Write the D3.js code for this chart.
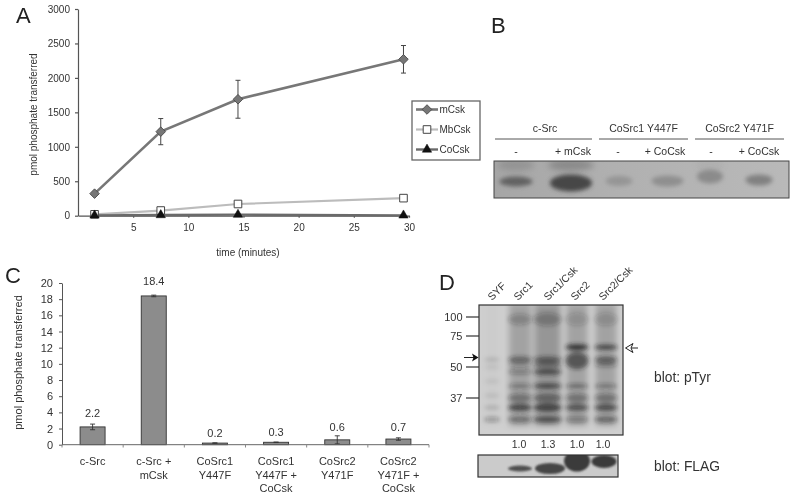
<!DOCTYPE html>
<html><head><meta charset="utf-8">
<script src="https://cdnjs.cloudflare.com/ajax/libs/d3/7.8.5/d3.min.js"></script>
<style>
html,body{margin:0;padding:0;background:#fff}
svg{display:block;filter:blur(0.35px)}
text{font-family:"Liberation Sans",Arial,sans-serif;fill:#333}
</style></head><body>
<svg id="c" width="795" height="497"></svg>
<script>
// Panel A
const timeMinutes=[1.5,7.5,14.5,29.5];
const mCsk=[320,1220,1690,2270];
const mCskErr=[0,190,275,200];
const mbCsk=[20,75,170,255];
const coCsk=[5,10,15,5];
const timeTicks=[5,10,15,20,25,30];
const phosphateTicks=[0,500,1000,1500,2000,2500,3000];
const seriesNames=["mCsk","MbCsk","CoCsk"];
// Panel C
const bars=["c-Src","c-Src + mCsk","CoSrc1 Y447F","CoSrc1 Y447F + CoCsk","CoSrc2 Y471F","CoSrc2 Y471F + CoCsk"];
const barLines=[["c-Src"],["c-Src +","mCsk"],["CoSrc1","Y447F"],["CoSrc1","Y447F +","CoCsk"],["CoSrc2","Y471F"],["CoSrc2","Y471F +","CoCsk"]];
const barValues=[2.2,18.4,0.2,0.3,0.6,0.7];
const barErr=[0.35,0.1,0.03,0.03,0.5,0.15];
const barTicks=[0,2,4,6,8,10,12,14,16,18,20];
// Panel B
const gelLanes=["-","+ mCsk","-","+ CoCsk","-","+ CoCsk"];
const gelGroups=["c-Src","CoSrc1 Y447F","CoSrc2 Y471F"];
const gelIntensity=[0.72,1,0.2,0.26,0.3,0.4];
const gelBandWidth=[33,42,27,32,26,27];
const gelBandHeight=[8,15,8,9,12,9];
const gelOffset=[0.5,2,0,0,-4.5,-1];
const gelTopSmudge=[0.12,0.2,0,0,0.03,0];
// Panel D
const dLanes=["SYF","Src1","Src1/Csk","Src2","Src2/Csk"];
const mwMarkers=[100,75,50,37];
const ratio=["","1.0","1.3","1.0","1.0"];
const flagLevel=[0,0.85,0.92,1,1];
const flagWidth=[0,24,30,26,25];
const flagHeight=[0,6,11,21,13];
const laneSmear=[0.02,0.22,0.28,0.22,0.22];
const syfBands=[[56,.14,3],[50,.08,3],[44,.08,3],[38,.1,3],[33,.16,3],[28,.32,4]];
const src1Bands=[[97,.24,10],[56,.5,5],[52,.24,3],[48,.32,4],[42,.42,3],[37,.36,8],[33,.7,6],[28,.42,5]];
const src1cBands=[[97,.28,12],[56,.55,5],[52,.44,5],[48,.66,5],[42,.74,4],[37,.46,8],[33,.72,7],[28,.65,5]];
const src2Bands=[[97,.16,12],[66,.85,5],[55,.58,16],[42,.5,3],[37,.36,8],[33,.62,6],[28,.32,5]];
const src2cBands=[[97,.18,12],[66,.76,4],[56,.55,5],[52,.34,4],[42,.42,3],[37,.36,8],[33,.66,6],[28,.48,5]];
const allBands=[syfBands,src1Bands,src1cBands,src2Bands,src2cBands];

const svg=d3.select("#c");
const defs=svg.append("defs");
[[1.9,"b1"],[2.2,"b2"],[3,"b3"],[1.1,"b0"]].forEach(([s,id])=>defs.append("filter").attr("id",id)
  .attr("x","-40%").attr("y","-100%").attr("width","180%").attr("height","300%")
  .append("feGaussianBlur").attr("stdDeviation",s));
const grayAxis=(g,w=1)=>{g.selectAll("path,line").attr("stroke","#555").attr("stroke-width",w);g.selectAll("text").attr("fill","#444")};
const label=(t,x,y)=>svg.append("text").text(t).attr("x",x).attr("y",y).attr("font-size",22).style("fill","#222");
label("A",16,23);label("B",491,33);label("C",5,283);label("D",439,290);

/* ---- Panel A ---- */
const xA=d3.scaleLinear().domain([0,30]).range([78,409]);
const yA=d3.scaleLinear().domain([0,3000]).range([215.7,9]);
const gA=svg.append("g");
gA.append("g").attr("transform","translate(78,0)")
  .call(d3.axisLeft(yA).tickValues(phosphateTicks).tickFormat(d3.format("d")).tickSize(3).tickSizeOuter(0).tickPadding(5))
  .call(g=>g.selectAll("text").attr("font-size",10)).call(grayAxis,1.2);
gA.append("g").attr("transform","translate(0,215.7)")
  .call(d3.axisBottom(xA).tickValues(timeTicks).tickSize(2).tickSizeOuter(0).tickPadding(6))
  .call(g=>g.selectAll("text").attr("font-size",10)).call(grayAxis,1.2);
gA.append("text").text("pmol phosphate transferred").attr("font-size",10)
  .attr("transform","translate(37,114.5) rotate(-90)").attr("text-anchor","middle");
gA.append("text").text("time (minutes)").attr("font-size",10).attr("x",248).attr("y",256).attr("text-anchor","middle");
const lineA=d3.line().x((d,i)=>xA(timeMinutes[i])).y(d=>yA(d));
const styleA={mCsk:{c:"#777",w:2.6},MbCsk:{c:"#bcbcbc",w:2.2},CoCsk:{c:"#6a6a6a",w:2.4}};
const sym=(name,g,x,y)=>{
  if(name==="mCsk") g.append("path").attr("d",d3.symbol(d3.symbolSquare,46)).attr("transform",`translate(${x},${y}) rotate(45)`).attr("fill","#777").attr("stroke","#444").attr("stroke-width",.8);
  if(name==="MbCsk") g.append("path").attr("d",d3.symbol(d3.symbolSquare,58)).attr("transform",`translate(${x},${y})`).attr("fill","#fff").attr("stroke","#444").attr("stroke-width",1);
  if(name==="CoCsk") g.append("path").attr("d",d3.symbol(d3.symbolTriangle,38)).attr("transform",`translate(${x},${y})`).attr("fill","#111").attr("stroke","#111").attr("stroke-width",.5);
};
[["MbCsk",mbCsk],["mCsk",mCsk],["CoCsk",coCsk]].forEach(([n,v])=>{
  gA.append("path").attr("d",lineA(v)).attr("fill","none").attr("stroke",styleA[n].c).attr("stroke-width",styleA[n].w);
});
mCsk.forEach((v,i)=>{ if(!mCskErr[i]) return;
  const x=xA(timeMinutes[i]);
  const p=d3.path();p.moveTo(x,yA(v-mCskErr[i]));p.lineTo(x,yA(v+mCskErr[i]));
  p.moveTo(x-2.5,yA(v-mCskErr[i]));p.lineTo(x+2.5,yA(v-mCskErr[i]));
  p.moveTo(x-2.5,yA(v+mCskErr[i]));p.lineTo(x+2.5,yA(v+mCskErr[i]));
  gA.append("path").attr("d",p).attr("stroke","#444").attr("fill","none");
});
[["MbCsk",mbCsk],["mCsk",mCsk],["CoCsk",coCsk]].forEach(([n,v])=>v.forEach((d,i)=>sym(n,gA,xA(timeMinutes[i]),yA(d))));
// legend
const legend=svg.append("g");
legend.append("rect").attr("x",412).attr("y",101).attr("width",68).attr("height",59).attr("fill","#fff").attr("stroke","#666").attr("stroke-width",1.3);
const legY=d3.scalePoint().domain(seriesNames).range([109.5,149.5]);
seriesNames.forEach(n=>{
  legend.append("line").attr("x1",416).attr("x2",438).attr("y1",legY(n)).attr("y2",legY(n)).attr("stroke",styleA[n].c).attr("stroke-width",styleA[n].w);
  sym(n,legend,427,legY(n));
  legend.append("text").text(n).attr("x",439.5).attr("y",legY(n)+3.5).attr("font-size",10);
});

/* ---- Panel B ---- */
const gB=svg.append("g");
const gradB=defs.append("linearGradient").attr("id","gb").attr("x1",0).attr("x2",1).attr("y1",0).attr("y2",0);
gradB.append("stop").attr("offset",0).attr("stop-color","#a6a6a6");
gradB.append("stop").attr("offset",.4).attr("stop-color","#b0b0b0");
gradB.append("stop").attr("offset",1).attr("stop-color","#b9b9b9");
const clipB=defs.append("clipPath").attr("id","cb");clipB.append("rect").attr("x",494).attr("y",161).attr("width",295).attr("height",37);
gB.append("rect").attr("x",494).attr("y",161).attr("width",295).attr("height",37).attr("fill","url(#gb)");
const xB=d3.scaleOrdinal().domain(d3.range(6)).range([516,571,619,667.5,710,759]);
const xBText=d3.scaleOrdinal().domain(d3.range(6)).range([516,573,618,665,711,759]);
const bandColor=d3.scaleLinear().domain([0,1]).range(["#a8a8a8","#474747"]);
const gelClip=gB.append("g").attr("clip-path","url(#cb)");
const smudgeG=gelClip.append("g").attr("filter","url(#b3)");
const gelG=gelClip.append("g").attr("filter","url(#b1)");
gelLanes.forEach((t,i)=>{
  const cx=xB(i);
  if(gelTopSmudge[i]) smudgeG.append("ellipse").attr("cx",cx).attr("cy",165).attr("rx",gelBandWidth[i]/2+2).attr("ry",6).attr("fill","#000").attr("opacity",gelTopSmudge[i]);
  gelG.append("ellipse").attr("cx",cx).attr("cy",181+gelOffset[i]).attr("rx",gelBandWidth[i]/2).attr("ry",gelBandHeight[i]/2+1)
    .attr("fill",bandColor(gelIntensity[i]));
  gB.append("text").text(t).attr("x",xBText(i)).attr("y",155).attr("text-anchor","middle").attr("font-size",10.5);
});
gB.append("rect").attr("x",494).attr("y",161).attr("width",295).attr("height",37).attr("fill","none").attr("stroke","#444").attr("stroke-width",1);
const xGroup=d3.scaleOrdinal().domain(gelGroups).range([[495,592],[599,688],[695,784]]);
gelGroups.forEach((g,i)=>{
  const [a,b]=xGroup(g);
  gB.append("line").attr("x1",a).attr("x2",b).attr("y1",139).attr("y2",139).attr("stroke","#555").attr("stroke-width",1);
  gB.append("text").text(g).attr("x",(a+b)/2+(i==0?1.5:0)).attr("y",132).attr("text-anchor","middle").attr("font-size",10.5);
});

/* ---- Panel C ---- */
const xC=d3.scaleBand().domain(bars).range([62,429]).padding(0);
const yC=d3.scaleLinear().domain([0,20]).range([444.7,283]);
const gC=svg.append("g");
gC.append("g").attr("transform","translate(62,0)")
  .call(d3.axisLeft(yC).tickValues(barTicks).tickSize(3).tickSizeOuter(0).tickPadding(6))
  .call(g=>g.selectAll("text").attr("font-size",11)).call(grayAxis,1);
gC.append("text").text("pmol phosphate transferred").attr("font-size",11)
  .attr("transform","translate(22,362.5) rotate(-90)").attr("text-anchor","middle");
const labelGap=[7,10,5.5,6,5,6.8];
bars.forEach((b,i)=>{
  const x=xC(b)+xC.bandwidth()/2;
  gC.append("rect").attr("x",x-12.5).attr("y",yC(barValues[i])).attr("width",25).attr("height",yC(0)-yC(barValues[i]))
    .attr("fill","#8c8c8c").attr("stroke","#333").attr("stroke-width",.9);
  const lo=yC(Math.max(0,barValues[i]-barErr[i])),hi=yC(barValues[i]+barErr[i]);
  const p=d3.path();p.moveTo(x,lo);p.lineTo(x,hi);p.moveTo(x-2.5,lo);p.lineTo(x+2.5,lo);p.moveTo(x-2.5,hi);p.lineTo(x+2.5,hi);
  gC.append("path").attr("d",p).attr("stroke","#333").attr("fill","none").attr("stroke-width",.9);
  gC.append("text").text(barValues[i]).attr("x",x).attr("y",hi-labelGap[i]).attr("text-anchor","middle").attr("font-size",11);
  barLines[i].forEach((l,k)=>gC.append("text").text(l).attr("x",x).attr("y",465+k*13.7).attr("text-anchor","middle").attr("font-size",11));
});
const xTick=d3.scaleLinear().domain([0,6]).range([62,429]);
gC.append("line").attr("x1",62).attr("x2",429).attr("y1",444.7).attr("y2",444.7).attr("stroke","#666");
d3.range(0,7).forEach(i=>gC.append("line").attr("x1",xTick(i)).attr("x2",xTick(i)).attr("y1",444.7).attr("y2",447.5).attr("stroke","#888"));

/* ---- Panel D ---- */
const gD=svg.append("g");
const xD=d3.scaleOrdinal().domain(dLanes).range([492,520,547.5,577,606]);
const yD=d3.scaleLinear().domain([100,75,50,37]).range([317,336,367,398]);
const clipD=defs.append("clipPath").attr("id","cd");clipD.append("rect").attr("x",479).attr("y",305).attr("width",144).attr("height",130);
gD.append("rect").attr("x",479).attr("y",305).attr("width",144).attr("height",130).attr("fill","#d0d0d0");
const blot=gD.append("g").attr("clip-path","url(#cd)");
const smearG=blot.append("g").attr("filter","url(#b3)");
const laneW=d3.scaleOrdinal().domain(dLanes).range([16,22,26,21,21]);
dLanes.forEach((l,i)=>{
  smearG.append("rect").attr("x",xD(l)-laneW(l)/2).attr("y",yD(100)-14).attr("width",laneW(l)).attr("height",yD(27)-yD(100)+18)
    .attr("fill","#000").attr("opacity",laneSmear[i]);
});
const bandG=blot.append("g").attr("filter","url(#b1)");
allBands.forEach((bs,i)=>bs.forEach(([k,a,h])=>{
  const l=dLanes[i];
  bandG.append("ellipse").attr("cx",xD(l)).attr("cy",yD(k)).attr("rx",(i==0?8:laneW(l)/2+1)).attr("ry",h/2+.5).attr("fill","#222").attr("opacity",a);
}));
gD.append("rect").attr("x",479).attr("y",305).attr("width",144).attr("height",130).attr("fill","none").attr("stroke","#333").attr("stroke-width",1.2);
mwMarkers.forEach(m=>{
  gD.append("line").attr("x1",466).attr("x2",479).attr("y1",yD(m)).attr("y2",yD(m)).attr("stroke","#333").attr("stroke-width",1.2);
  gD.append("text").text(m).attr("x",462.5).attr("y",yD(m)+4).attr("text-anchor","end").attr("font-size",11);
});
const rotStart=d3.scaleOrdinal().domain(dLanes).range([492,518,548,575,603]);
dLanes.forEach(l=>gD.append("text").text(l).attr("font-size",10.5).attr("transform",`translate(${rotStart(l)},301) rotate(-45)`));
const ratioX=d3.scaleOrdinal().domain(dLanes).range([0,519,548,577,603]);
dLanes.forEach((l,i)=>{ if(ratio[i]) gD.append("text").text(ratio[i]).attr("x",ratioX(l)).attr("y",448).attr("text-anchor","middle").attr("font-size",10.5);});
// FLAG blot
defs.append("clipPath").attr("id","cf").append("rect").attr("x",478).attr("y",455).attr("width",140).attr("height",22);
gD.append("rect").attr("x",478).attr("y",455).attr("width",140).attr("height",22).attr("fill","#cbcbcb");
const fl=gD.append("g").attr("clip-path","url(#cf)").append("g").attr("filter","url(#b0)");
const flagX=d3.scaleOrdinal().domain(dLanes).range([491,520,550,577,604]);
const flagY=d3.scaleOrdinal().domain(dLanes).range([0,468.5,468.5,461,461.5]);
dLanes.forEach((l,i)=>{ if(flagLevel[i]) fl.append("ellipse").attr("cx",flagX(l)).attr("cy",flagY(l)).attr("rx",flagWidth[i]/2).attr("ry",flagHeight[i]/2).attr("fill","#3a3a3a").attr("opacity",flagLevel[i]);});
gD.append("rect").attr("x",478).attr("y",455).attr("width",140).attr("height",22).attr("fill","none").attr("stroke","#333").attr("stroke-width",1.2);
gD.append("text").text("blot: pTyr").attr("x",654).attr("y",382).attr("font-size",13.8);
gD.append("text").text("blot: FLAG").attr("x",654).attr("y",471).attr("font-size",13.8);
// arrows
gD.append("line").attr("x1",464).attr("x2",476).attr("y1",357.5).attr("y2",357.5).attr("stroke","#222");
gD.append("path").attr("d",d3.line()([[472,353.5],[478.5,357.5],[472,361.5],[473.5,357.5]])+"Z").attr("fill","#111");
gD.append("line").attr("x1",627).attr("x2",638).attr("y1",348).attr("y2",348).attr("stroke","#222");
gD.append("path").attr("d",d3.line()([[633,343.5],[625.5,348],[633,352.5],[631,348]])+"Z").attr("fill","#fff").attr("stroke","#222");
</script>
</body></html>
